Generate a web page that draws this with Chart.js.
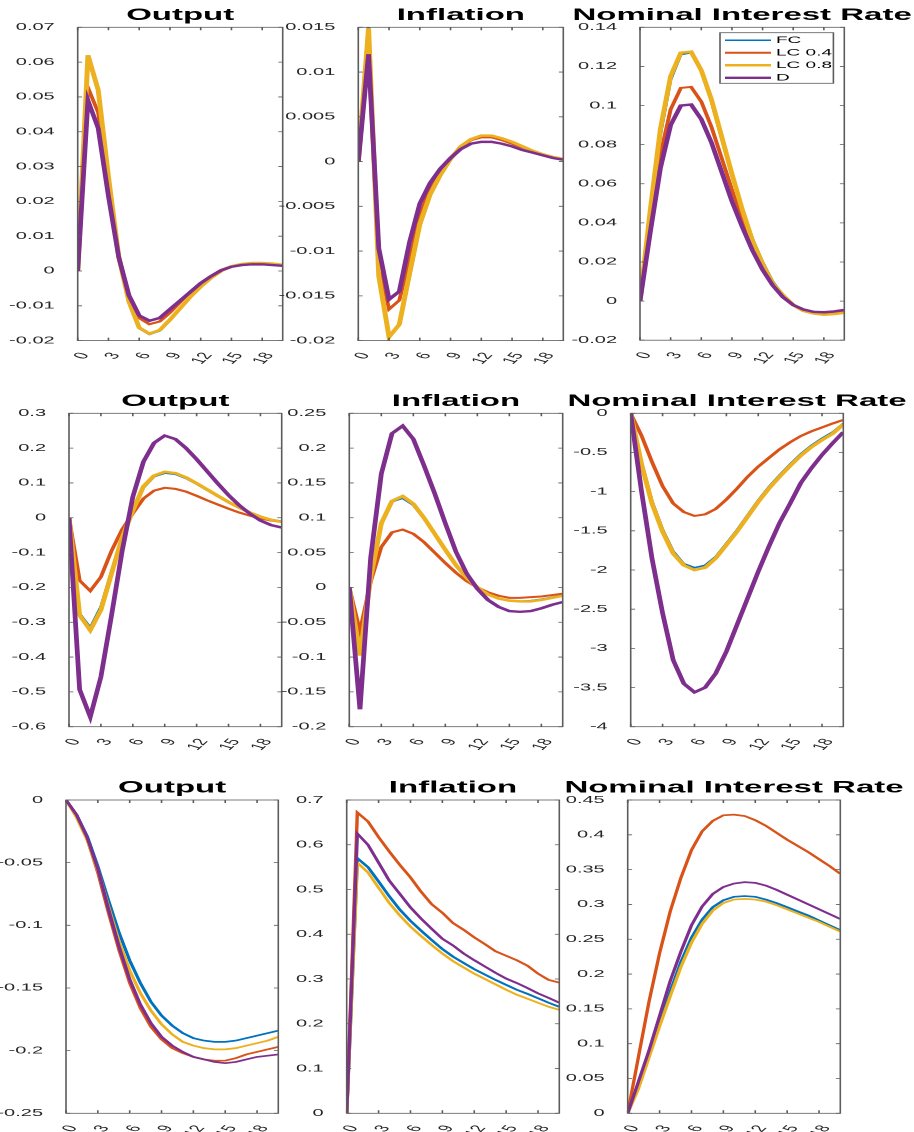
<!DOCTYPE html>
<html>
<head>
<meta charset="utf-8">
<script src="https://cdn.jsdelivr.net/npm/chart.js@4.4.1/dist/chart.umd.min.js"></script>
<style>
  html, body { margin: 0; padding: 0; background: #fff; overflow: hidden; width: 914px; height: 1132px; }
  /* the original figure is stretched 2x horizontally */
  #fig { position: absolute; left: 0; top: 0; width: 457px; height: 1132px; transform: scaleX(2); transform-origin: 0 0; }
  #fig canvas { position: absolute; }
</style>
</head>
<body>
<div id="fig"></div>
<script>
// ---------------- data ----------------
const horizon = [0, 1, 2, 3, 4, 5, 6, 7, 8, 9, 10, 11, 12, 13, 14, 15, 16, 17, 18, 19, 20];
const xTicks = [0, 3, 6, 9, 12, 15, 18];
const seriesNames = ["FC", "LC 0.4", "LC 0.8", "D"];

// row 1
const r1OutputFC  = [0, 0.0615, 0.0515, 0.027, 0.004, -0.009, -0.0165, -0.0182, -0.0172, -0.0142, -0.0108, -0.0074, -0.0045, -0.002, 0.0, 0.0012, 0.0019, 0.0022, 0.0022, 0.002, 0.0017];
const r1OutputLC4 = [0, 0.0527, 0.0455, 0.024, 0.004, -0.008, -0.0135, -0.0153, -0.0145, -0.012, -0.009, -0.006, -0.0035, -0.0015, 0.0003, 0.0014, 0.002, 0.0022, 0.0022, 0.002, 0.0017];
const r1OutputLC8 = [0, 0.062, 0.052, 0.027, 0.0042, -0.0088, -0.0163, -0.018, -0.017, -0.014, -0.0107, -0.0074, -0.0045, -0.002, 0.0, 0.0013, 0.002, 0.0023, 0.0023, 0.0021, 0.0018];
const r1OutputD   = [0, 0.049, 0.041, 0.0215, 0.004, -0.007, -0.0128, -0.0143, -0.0135, -0.011, -0.0085, -0.006, -0.0035, -0.0015, 0.0002, 0.0012, 0.0017, 0.0019, 0.0019, 0.0017, 0.0015];

const r1InflFC  = [0, 0.0153, -0.0125, -0.0195, -0.0183, -0.0128, -0.0072, -0.0038, -0.0016, 0.0002, 0.0016, 0.0024, 0.0028, 0.0028, 0.0025, 0.0021, 0.0017, 0.0012, 0.0008, 0.0005, 0.0003];
const r1InflLC4 = [0, 0.0125, -0.0113, -0.0165, -0.0155, -0.011, -0.006, -0.003, -0.0011, 0.0004, 0.0016, 0.0024, 0.0027, 0.0027, 0.0024, 0.002, 0.0016, 0.0012, 0.0008, 0.0005, 0.0003];
const r1InflLC8 = [0, 0.0149, -0.0128, -0.0196, -0.0182, -0.0125, -0.007, -0.0037, -0.0015, 0.0003, 0.0017, 0.0025, 0.0029, 0.0029, 0.0026, 0.0022, 0.0017, 0.0012, 0.0008, 0.0005, 0.0003];
const r1InflD   = [0, 0.012, -0.0097, -0.0154, -0.0145, -0.009, -0.0047, -0.0024, -0.0008, 0.0004, 0.0014, 0.002, 0.0022, 0.0022, 0.002, 0.0017, 0.0013, 0.001, 0.0007, 0.0004, 0.0002];

const r1RateFC  = [0, 0.044, 0.085, 0.113, 0.126, 0.127, 0.118, 0.102, 0.083, 0.064, 0.047, 0.032, 0.02, 0.01, 0.003, -0.002, -0.005, -0.0065, -0.007, -0.0066, -0.006];
const r1RateLC4 = [0, 0.04, 0.075, 0.098, 0.109, 0.1095, 0.102, 0.089, 0.073, 0.057, 0.042, 0.029, 0.018, 0.009, 0.002, -0.002, -0.0045, -0.006, -0.0062, -0.006, -0.0052];
const r1RateLC8 = [0, 0.046, 0.088, 0.115, 0.127, 0.1275, 0.118, 0.103, 0.084, 0.065, 0.047, 0.031, 0.019, 0.009, 0.003, -0.002, -0.005, -0.0063, -0.007, -0.0066, -0.006];
const r1RateD   = [0, 0.035, 0.068, 0.09, 0.1, 0.1005, 0.093, 0.081, 0.066, 0.051, 0.038, 0.026, 0.016, 0.008, 0.002, -0.002, -0.0043, -0.0055, -0.0057, -0.0053, -0.0045];

// row 2
const r2OutputFC  = [0, -0.275, -0.315, -0.255, -0.155, -0.058, 0.02, 0.086, 0.118, 0.128, 0.125, 0.113, 0.097, 0.079, 0.061, 0.044, 0.028, 0.014, 0.003, -0.005, -0.01];
const r2OutputLC4 = [0, -0.18, -0.21, -0.17, -0.095, -0.033, 0.012, 0.055, 0.078, 0.086, 0.083, 0.075, 0.063, 0.05, 0.038, 0.026, 0.015, 0.006, -0.002, -0.008, -0.012];
const r2OutputLC8 = [0, -0.28, -0.323, -0.265, -0.16, -0.057, 0.02, 0.09, 0.121, 0.132, 0.128, 0.116, 0.099, 0.081, 0.063, 0.045, 0.029, 0.015, 0.003, -0.006, -0.012];
const r2OutputD   = [0, -0.493, -0.572, -0.457, -0.28, -0.095, 0.06, 0.161, 0.215, 0.236, 0.226, 0.2, 0.168, 0.133, 0.098, 0.065, 0.036, 0.012, -0.008, -0.021, -0.028];

const r2InflFC  = [0, -0.096, 0.012, 0.09, 0.123, 0.128, 0.118, 0.099, 0.077, 0.054, 0.032, 0.014, 0.0, -0.01, -0.016, -0.019, -0.02, -0.019, -0.017, -0.014, -0.011];
const r2InflLC4 = [0, -0.063, 0.008, 0.058, 0.079, 0.083, 0.077, 0.065, 0.05, 0.035, 0.021, 0.009, 0.0, -0.007, -0.012, -0.015, -0.015, -0.014, -0.013, -0.011, -0.009];
const r2InflLC8 = [0, -0.098, 0.014, 0.092, 0.124, 0.131, 0.12, 0.1, 0.077, 0.054, 0.032, 0.014, 0.0, -0.01, -0.016, -0.019, -0.02, -0.02, -0.018, -0.015, -0.012];
const r2InflD   = [0, -0.175, 0.042, 0.163, 0.221, 0.232, 0.213, 0.175, 0.135, 0.092, 0.051, 0.02, -0.002, -0.018, -0.028, -0.034, -0.035, -0.034, -0.03, -0.025, -0.021];

const r2RateFC  = [0, -0.62, -1.12, -1.48, -1.76, -1.92, -1.97, -1.94, -1.83, -1.66, -1.49, -1.3, -1.11, -0.94, -0.79, -0.65, -0.52, -0.41, -0.32, -0.24, -0.13];
const r2RateLC4 = [0, -0.28, -0.62, -0.93, -1.15, -1.26, -1.31, -1.29, -1.22, -1.1, -0.96, -0.81, -0.68, -0.57, -0.46, -0.37, -0.29, -0.23, -0.18, -0.13, -0.085];
const r2RateLC8 = [0, -0.64, -1.15, -1.51, -1.79, -1.94, -2.0, -1.97, -1.85, -1.68, -1.51, -1.32, -1.13, -0.96, -0.81, -0.67, -0.54, -0.43, -0.34, -0.26, -0.14];
const r2RateD   = [0, -0.98, -1.85, -2.55, -3.15, -3.45, -3.56, -3.5, -3.32, -3.04, -2.7, -2.36, -2.02, -1.7, -1.4, -1.15, -0.89, -0.7, -0.53, -0.38, -0.24];

// row 3
const r3OutputFC  = [0, -0.012, -0.029, -0.053, -0.08, -0.106, -0.128, -0.146, -0.161, -0.172, -0.18, -0.186, -0.19, -0.192, -0.193, -0.193, -0.192, -0.19, -0.188, -0.186, -0.184];
const r3OutputLC4 = [0, -0.012, -0.031, -0.058, -0.09, -0.12, -0.146, -0.166, -0.181, -0.191, -0.198, -0.202, -0.205, -0.207, -0.208, -0.208, -0.206, -0.203, -0.201, -0.199, -0.197];
const r3OutputLC8 = [0, -0.014, -0.032, -0.056, -0.085, -0.113, -0.136, -0.154, -0.168, -0.179, -0.187, -0.193, -0.196, -0.198, -0.199, -0.199, -0.198, -0.196, -0.194, -0.192, -0.189];
const r3OutputD   = [0, -0.012, -0.03, -0.055, -0.087, -0.117, -0.143, -0.163, -0.178, -0.189, -0.196, -0.201, -0.205, -0.207, -0.209, -0.21, -0.209, -0.207, -0.205, -0.204, -0.203];

const r3InflFC  = [0, 0.57, 0.55, 0.518, 0.485, 0.455, 0.43, 0.408, 0.387, 0.367, 0.35, 0.336, 0.322, 0.31, 0.298, 0.287, 0.276, 0.267, 0.257, 0.247, 0.238];
const r3InflLC4 = [0, 0.672, 0.652, 0.617, 0.585, 0.555, 0.527, 0.495, 0.467, 0.448, 0.425, 0.41, 0.393, 0.378, 0.362, 0.352, 0.342, 0.33, 0.312, 0.298, 0.292];
const r3InflLC8 = [0, 0.56, 0.538, 0.504, 0.47, 0.442, 0.417, 0.396, 0.376, 0.357, 0.34, 0.326, 0.312, 0.3, 0.288, 0.276, 0.265, 0.256, 0.247, 0.238, 0.231];
const r3InflD   = [0, 0.625, 0.6, 0.56, 0.52, 0.49, 0.46, 0.435, 0.412, 0.39, 0.375, 0.357, 0.342, 0.328, 0.314, 0.301, 0.291, 0.28, 0.268, 0.258, 0.247];

const r3RateFC  = [0, 0.04, 0.085, 0.13, 0.175, 0.217, 0.252, 0.278, 0.296, 0.306, 0.311, 0.312, 0.311, 0.307, 0.302, 0.296, 0.29, 0.284, 0.277, 0.27, 0.263];
const r3RateLC4 = [0, 0.08, 0.16, 0.23, 0.29, 0.338, 0.378, 0.405, 0.42, 0.428, 0.429, 0.427, 0.421, 0.413, 0.403, 0.393, 0.384, 0.375, 0.365, 0.355, 0.344];
const r3RateLC8 = [0, 0.035, 0.08, 0.125, 0.168, 0.21, 0.245, 0.272, 0.291, 0.302, 0.307, 0.308, 0.307, 0.304, 0.299, 0.293, 0.287, 0.281, 0.275, 0.268, 0.261];
const r3RateD   = [0, 0.045, 0.09, 0.14, 0.19, 0.232, 0.27, 0.297, 0.315, 0.325, 0.33, 0.332, 0.331, 0.327, 0.321, 0.314, 0.307, 0.3, 0.293, 0.286, 0.279];

// y tick labels
const r1OutputTicks = [-0.02, -0.01, 0, 0.01, 0.02, 0.03, 0.04, 0.05, 0.06, 0.07];
const r1InflTicks   = [-0.02, -0.015, -0.01, -0.005, 0, 0.005, 0.01, 0.015];
const r1RateTicks   = [-0.02, 0, 0.02, 0.04, 0.06, 0.08, 0.1, 0.12, 0.14];
const r2OutputTicks = [-0.6, -0.5, -0.4, -0.3, -0.2, -0.1, 0, 0.1, 0.2, 0.3];
const r2InflTicks   = [-0.2, -0.15, -0.1, -0.05, 0, 0.05, 0.1, 0.15, 0.2, 0.25];
const r2RateTicks   = [-4, -3.5, -3, -2.5, -2, -1.5, -1, -0.5, 0];
const r3OutputTicks = [-0.25, -0.2, -0.15, -0.1, -0.05, 0];
const r3InflTicks   = [0, 0.1, 0.2, 0.3, 0.4, 0.5, 0.6, 0.7];
const r3RateTicks   = [0, 0.05, 0.1, 0.15, 0.2, 0.25, 0.3, 0.35, 0.4, 0.45];

// ---------------- style / layout ----------------
const COLORS = ["#0072BD", "#D95319", "#EDB120", "#7E2F8E"];
const WIDE_LINES = [1.5, 2, 2.5, 2.4];
const THIN_LINES = [1.7, 1.7, 1.7, 1.7];
const FONT = '"Liberation Sans", Arial, Helvetica, sans-serif';
const FRAME_COLOR = "#5c5c5c";
const TICK_COLOR = "#262626";
const Y_W = 40, X_H = 32, PAD = 3, TITLE_SIZE = 16.5, TITLE_PAD = 2;
const TITLE_H = TITLE_SIZE * 1.2 + TITLE_PAD;

Chart.defaults.font.family = FONT;

// plot rectangles [left, top, right, bottom] in unstretched page pixels
const panels = [
  { title: "Output", series: [r1OutputFC, r1OutputLC4, r1OutputLC8, r1OutputD], ticks: r1OutputTicks, box: [38.85, 27.3, 141.35, 340.6], widths: WIDE_LINES },
  { title: "Inflation", series: [r1InflFC, r1InflLC4, r1InflLC8, r1InflD], ticks: r1InflTicks, box: [179.15, 27.3, 281.65, 340.6], widths: WIDE_LINES },
  { title: "Nominal Interest Rate", series: [r1RateFC, r1RateLC4, r1RateLC8, r1RateD], ticks: r1RateTicks, box: [320.0, 27.3, 422.15, 340.2], widths: WIDE_LINES, legend: true },
  { title: "Output", series: [r2OutputFC, r2OutputLC4, r2OutputLC8, r2OutputD], ticks: r2OutputTicks, box: [34.5, 413.3, 140.85, 726.7], widths: WIDE_LINES },
  { title: "Inflation", series: [r2InflFC, r2InflLC4, r2InflLC8, r2InflD], ticks: r2InflTicks, box: [174.65, 413.3, 281.35, 726.7], widths: WIDE_LINES },
  { title: "Nominal Interest Rate", series: [r2RateFC, r2RateLC4, r2RateLC8, r2RateD], ticks: r2RateTicks, box: [315.35, 413.3, 421.65, 726.7], widths: WIDE_LINES },
  { title: "Output", series: [r3OutputFC, r3OutputLC4, r3OutputLC8, r3OutputD], ticks: r3OutputTicks, box: [33.0, 800, 139.15, 1113.3], widths: THIN_LINES },
  { title: "Inflation", series: [r3InflFC, r3InflLC4, r3InflLC8, r3InflD], ticks: r3InflTicks, box: [173.35, 800, 279.65, 1113.3], widths: THIN_LINES },
  { title: "Nominal Interest Rate", series: [r3RateFC, r3RateLC4, r3RateLC8, r3RateD], ticks: r3RateTicks, box: [313.85, 800, 420.15, 1113.3], widths: THIN_LINES }
];

// axes box with inward ticks on all four sides (+ legend box)
const framePlugin = {
  id: "frame",
  afterDraw(chart, args, opts) {
    const { ctx, chartArea: a } = chart;
    const xs = chart.scales.x, ys = chart.scales.y;
    ctx.save();
    ctx.strokeStyle = FRAME_COLOR;
    ctx.lineWidth = 0.8;
    ctx.strokeRect(a.left, a.top, a.right - a.left, a.bottom - a.top);
    ctx.beginPath();
    xs.ticks.forEach(t => {
      const px = xs.getPixelForValue(t.value);
      ctx.moveTo(px, a.bottom); ctx.lineTo(px, a.bottom - 3);
      ctx.moveTo(px, a.top); ctx.lineTo(px, a.top + 3);
    });
    ys.ticks.forEach(t => {
      const py = ys.getPixelForValue(t.value);
      ctx.moveTo(a.left, py); ctx.lineTo(a.left + 2.2, py);
      ctx.moveTo(a.right, py); ctx.lineTo(a.right - 2.2, py);
    });
    ctx.stroke();

    if (opts.legend) {
      const x0 = a.left + 40, y0 = a.top + 5.4, w = 56.7, h = 50.6;
      ctx.fillStyle = "#fff";
      ctx.fillRect(x0, y0, w, h);
      ctx.strokeStyle = FRAME_COLOR;
      ctx.lineWidth = 0.8;
      ctx.strokeRect(x0, y0, w, h);
      ctx.font = "9.5px " + FONT;
      ctx.textBaseline = "middle";
      ctx.textAlign = "left";
      chart.data.datasets.forEach((ds, k) => {
        const yy = y0 + 7.6 + k * 12.5;
        ctx.strokeStyle = ds.borderColor;
        ctx.lineWidth = ds.borderWidth;
        ctx.beginPath();
        ctx.moveTo(x0 + 2.5, yy);
        ctx.lineTo(x0 + 25.5, yy);
        ctx.stroke();
        ctx.fillStyle = "#000";
        ctx.fillText(ds.label, x0 + 28, yy);
      });
    }
    ctx.restore();
  }
};

const fig = document.getElementById("fig");
const fmt = v => String(+Number(v).toFixed(6));

panels.forEach(p => {
  const [L, T, R, B] = p.box;
  // canvas symmetric around the plot so the title is centred on it
  const cl = Math.round(L - Y_W - PAD), cw = Math.round(R + Y_W + PAD) - cl;
  const ct = Math.floor(T - TITLE_H), ch = Math.ceil(B) + X_H + 2 - ct;
  const cv = document.createElement("canvas");
  cv.width = cw;
  cv.height = ch;
  cv.style.left = cl + "px";
  cv.style.top = ct + "px";
  fig.appendChild(cv);

  new Chart(cv, {
    type: "line",
    data: {
      datasets: p.series.map((s, k) => ({
        label: seriesNames[k],
        data: horizon.map((t, i) => ({ x: t, y: s[i] })),
        borderColor: COLORS[k],
        borderWidth: p.widths[k],
        pointRadius: 0,
        tension: 0,
        fill: false,
        clip: 0,
        order: 4 - k
      }))
    },
    options: {
      responsive: false,
      animation: false,
      devicePixelRatio: 2,
      events: [],
      layout: {
        padding: {
          left: L - cl - Y_W,
          right: cl + cw - R - Y_W,
          top: T - TITLE_H - ct,
          bottom: ct + ch - B - X_H
        }
      },
      plugins: {
        legend: { display: false },
        tooltip: { enabled: false },
        title: {
          display: true,
          text: p.title,
          color: "#000",
          font: { size: TITLE_SIZE, weight: "bold", lineHeight: 1.2 },
          padding: { top: 0, bottom: TITLE_PAD }
        },
        frame: { legend: !!p.legend }
      },
      scales: {
        x: {
          type: "linear",
          min: horizon[0],
          max: horizon[horizon.length - 1],
          grid: { display: false },
          border: { display: false },
          afterBuildTicks: sc => { sc.ticks = xTicks.map(v => ({ value: v })); },
          afterFit: sc => { sc.height = X_H; },
          ticks: {
            autoSkip: false,
            minRotation: 60,
            maxRotation: 60,
            padding: 2,
            labelOffset: 3.5,
            color: TICK_COLOR,
            font: { size: 10 },
            callback: fmt
          }
        },
        y: {
          type: "linear",
          min: p.ticks[0],
          max: p.ticks[p.ticks.length - 1],
          grid: { display: false },
          border: { display: false },
          afterBuildTicks: sc => { sc.ticks = p.ticks.map(v => ({ value: v })); },
          afterFit: sc => { sc.width = Y_W; },
          ticks: {
            padding: 3.5,
            color: TICK_COLOR,
            font: { size: 10 },
            callback: fmt
          }
        },
        // empty right axis, only keeps the layout symmetric
        y2: {
          position: "right",
          display: true,
          grid: { display: false },
          border: { display: false },
          ticks: { display: false },
          afterFit: sc => { sc.width = Y_W; }
        }
      }
    },
    plugins: [framePlugin]
  });
});
</script>
</body>
</html>
